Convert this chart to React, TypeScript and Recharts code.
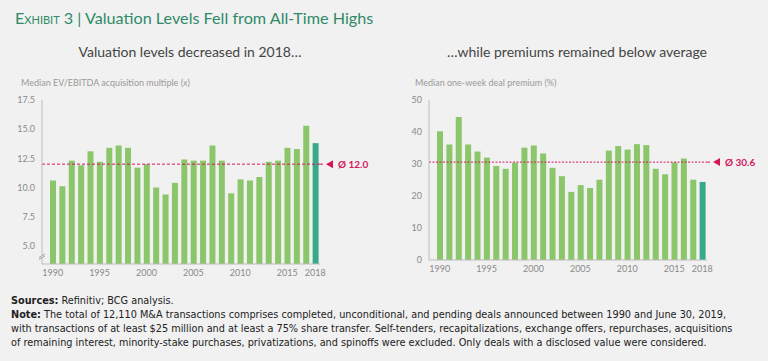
import React from "react";
import {
  BarChart,
  Bar,
  XAxis,
  YAxis,
  ReferenceLine,
  Cell,
} from "recharts";

const YEARS = [
  "1990", "1991", "1992", "1993", "1994", "1995", "1996", "1997", "1998", "1999",
  "2000", "2001", "2002", "2003", "2004", "2005", "2006", "2007", "2008", "2009",
  "2010", "2011", "2012", "2013", "2014", "2015", "2016", "2017", "2018",
];
const SHOWN_YEARS = ["1990", "1995", "2000", "2005", "2010", "2015", "2018"];

const EV_EBITDA = [
  10.6, 10.1, 12.3, 11.9, 13.1, 12.2, 13.4, 13.6, 13.4, 11.7,
  12.0, 10.0, 9.4, 10.4, 12.4, 12.3, 12.3, 13.6, 12.3, 9.5,
  10.7, 10.6, 10.9, 12.2, 12.3, 13.4, 13.3, 15.3, 13.8,
];
const PREMIUM = [
  40.2, 36.1, 44.7, 36.1, 33.9, 32.0, 29.4, 28.5, 30.4, 35.1,
  35.8, 33.3, 28.8, 26.2, 21.3, 23.4, 22.5, 25.1, 34.2, 35.6,
  34.5, 36.2, 35.9, 28.5, 26.8, 30.5, 31.7, 25.1, 24.4,
];
const EV_AVG = 12.0;
const PREMIUM_AVG = 30.6;
const EV_TICKS = [5, 7.5, 10, 12.5, 15, 17.5];
const PREMIUM_TICKS = [0, 10, 20, 30, 40, 50];

const GREEN = "#8cc66a";
const TEAL = "#3aa98b";
const RED = "#d3175a";
const AXIS = "#bdbdbd";
const TICK = "#8a8a8a";
const BG = "#f1f1f1";
const FONT = "Lato, 'Open Sans', sans-serif";

const evData = YEARS.map((y, i) => ({ year: y, value: EV_EBITDA[i] }));
const premiumData = YEARS.map((y, i) => ({ year: y, value: PREMIUM[i] }));

const AvgLabel = ({ viewBox, text }: any) => {
  const x = viewBox.x + viewBox.width;
  const y = viewBox.y;
  return (
    <g>
      <line x1={x} y1={y} x2={x + 4} y2={y} stroke={RED} strokeWidth={1} strokeDasharray="3 2" />
      <polygon points={`${x + 6},${y} ${x + 13},${y - 4} ${x + 13},${y + 4}`} fill={RED} />
      <text x={x + 18} y={y} dy="0.35em" fill={RED} fontSize={10} fontWeight={700} fontFamily={FONT}>
        {text}
      </text>
    </g>
  );
};

type PanelProps = {
  data: { year: string; value: number }[];
  domain: [number, number];
  ticks: number[];
  avg: number;
  avgText: string;
  fmt: (v: number) => string;
  height: number;
  dash: string;
};

const Panel = ({ data, domain, ticks, avg, avgText, fmt, height, dash }: PanelProps) => (
  <BarChart
    width={380}
    height={height}
    data={data}
    margin={{ top: 10, right: 60, left: 0, bottom: 0 }}
    barCategoryGap={0}
  >
    <XAxis
      dataKey="year"
      interval={0}
      tickFormatter={(v) => (SHOWN_YEARS.includes(v) ? v : "")}
      tick={{ fontSize: 9, fill: TICK, fontFamily: FONT }}
      tickLine={false}
      tickSize={4}
      axisLine={{ stroke: AXIS }}
      padding={{ left: 6, right: 0 }}
      height={21}
    />
    <YAxis
      type="number"
      domain={domain}
      ticks={ticks}
      allowDataOverflow
      tickFormatter={fmt}
      tick={{ fontSize: 9, fill: TICK, fontFamily: FONT }}
      tickLine={false}
      tickSize={5}
      axisLine={{ stroke: AXIS }}
      width={42}
    />
    <Bar dataKey="value" barSize={6} isAnimationActive={false}>
      {data.map((d, i) => (
        <Cell key={i} fill={i === data.length - 1 ? TEAL : GREEN} />
      ))}
    </Bar>
    <ReferenceLine
      y={avg}
      stroke={RED}
      strokeWidth={1}
      strokeDasharray={dash}
      label={(p: any) => <AvgLabel viewBox={p.viewBox} text={avgText} />}
    />
  </BarChart>
);

const App = () => (
  <div
    style={{
      position: "absolute",
      left: 0,
      top: 0,
      width: 768,
      height: 361,
      background: BG,
      fontFamily: FONT,
      overflow: "hidden",
    }}
  >
    <div style={{ position: "absolute", left: 15, top: 8, fontSize: 16.2, color: "#2f8a68", whiteSpace: "nowrap" }}>
      <span style={{ fontVariant: "small-caps" }}>Exhibit</span> 3 | Valuation Levels Fell from All-Time Highs
    </div>

    <div style={{ position: "absolute", left: 0, width: 380, top: 43, textAlign: "center", fontSize: 14, color: "#444" }}>
      Valuation levels decreased in 2018…
    </div>
    <div style={{ position: "absolute", left: 387, width: 380, top: 43, textAlign: "center", fontSize: 14, color: "#444" }}>
      …while premiums remained below average
    </div>

    <div style={{ position: "absolute", left: 21, top: 77, fontSize: 9, color: "#999" }}>
      Median EV/EBITDA acquisition multiple (x)
    </div>
    <div style={{ position: "absolute", left: 415, top: 77, fontSize: 9, color: "#999" }}>
      Median one-week deal premium (%)
    </div>

    <div style={{ position: "absolute", left: 0, top: 90 }}>
      <Panel
        data={evData}
        domain={[3.44, 17.5]}
        ticks={EV_TICKS}
        avg={EV_AVG}
        avgText="Ø 12.0"
        fmt={(v) => v.toFixed(1)}
        height={195}
        dash="3 2"
      />
    </div>
    <svg style={{ position: "absolute", left: 34, top: 248 }} width={16} height={16}>
      <rect x={7} y={7} width={3} height={3} fill={BG} />
      <line x1={5} y1={9.5} x2={11} y2={6} stroke={TICK} strokeWidth={0.8} />
      <line x1={5} y1={11.5} x2={11} y2={8} stroke={TICK} strokeWidth={0.8} />
    </svg>

    <div style={{ position: "absolute", left: 387, top: 90 }}>
      <Panel
        data={premiumData}
        domain={[0, 50]}
        ticks={PREMIUM_TICKS}
        avg={PREMIUM_AVG}
        avgText="Ø 30.6"
        fmt={(v) => String(v)}
        height={191}
        dash="2 1.5"
      />
    </div>

    <div
      style={{
        position: "absolute",
        left: 11,
        top: 294,
        fontFamily: "'Liberation Sans Narrow', 'DejaVu Sans Condensed', sans-serif",
        fontSize: 10.8,
        lineHeight: "14px",
        color: "#222",
        whiteSpace: "nowrap",
      }}
    >
      <div><b>Sources:</b> Refinitiv; BCG analysis.</div>
      <div><b>Note:</b> The total of 12,110 M&amp;A transactions comprises completed, unconditional, and pending deals announced between 1990 and June 30, 2019,</div>
      <div>with transactions of at least $25 million and at least a 75% share transfer. Self-tenders, recapitalizations, exchange offers, repurchases, acquisitions</div>
      <div>of remaining interest, minority-stake purchases, privatizations, and spinoffs were excluded. Only deals with a disclosed value were considered.</div>
    </div>
  </div>
);

export default App;
